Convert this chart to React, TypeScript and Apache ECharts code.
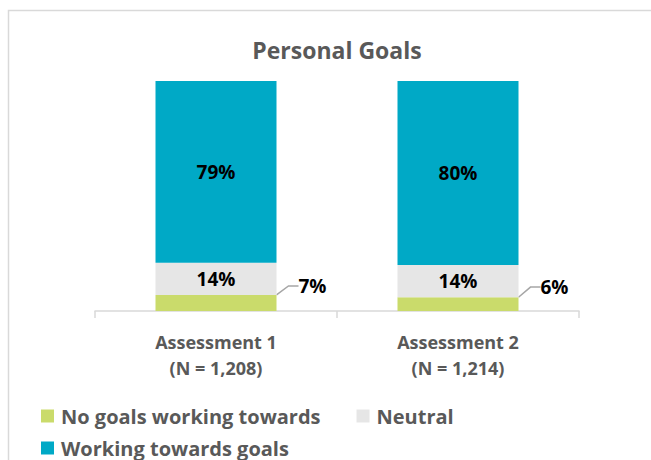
import React, { useEffect, useRef } from "react";
import * as echarts from "echarts";

const categories = ["Assessment 1\n(N = 1,208)", "Assessment 2\n(N = 1,214)"];
const noGoals = [7, 6];
const neutral = [14, 14];
const working = [79, 80];
const seriesNames = ["No goals working towards", "Neutral", "Working towards goals"];
const colors = ["#CADB6B", "#E6E6E6", "#00A9C6"];

const FONT = "Open Sans";

export default function App() {
  const ref = useRef<HTMLDivElement>(null);
  useEffect(() => {
    if (!ref.current) return;
    const chart = echarts.init(ref.current, undefined, { renderer: "svg" });
    const valueLabel = {
      show: true,
      position: "inside",
      formatter: "{c}%",
      color: "#000000",
      fontFamily: FONT,
      fontWeight: "bold",
      fontSize: 19,
    };
    const legendText = { fontFamily: FONT, fontWeight: "bold", fontSize: 20, color: "#595959", lineHeight: 20, padding: [0, 0, 0, 2] };
    chart.setOption({
      animation: false,
      backgroundColor: "#ffffff",
      title: {
        text: "Personal Goals",
        left: 332,
        textAlign: "center",
        top: 33,
        textStyle: { fontFamily: FONT, fontWeight: "bold", fontSize: 23, color: "#595959" },
      },
      graphic: [
        {
          type: "rect",
          shape: { x: 8.5, y: 10.5, width: 700, height: 500 },
          style: { fill: "none", stroke: "#D9D9D9", lineWidth: 1.5 },
          silent: true,
        },
      ],
      legend: [
        {
          data: [seriesNames[0], seriesNames[1]],
          left: 41,
          top: 406,
          padding: 0,
          itemWidth: 13,
          itemHeight: 13,
          itemGap: 36,
          icon: "rect",
          textStyle: legendText,
        },
        {
          data: [seriesNames[2]],
          left: 41,
          top: 438,
          padding: 0,
          itemWidth: 13,
          itemHeight: 13,
          icon: "rect",
          textStyle: legendText,
        },
      ],
      grid: { left: 95, right: 72, top: 81, height: 230 },
      xAxis: {
        type: "category",
        data: categories,
        axisLine: { lineStyle: { color: "#D9D9D9", width: 1.5 } },
        axisTick: { show: true, length: 7, lineStyle: { color: "#D9D9D9", width: 1.5 } },
        axisLabel: {
          margin: 18,
          fontFamily: FONT,
          fontWeight: "bold",
          fontSize: 18,
          lineHeight: 26,
          color: "#595959",
        },
      },
      yAxis: { type: "value", min: 0, max: 100, show: false },
      series: [
        {
          name: seriesNames[0],
          type: "bar",
          stack: "a",
          barWidth: "50%",
          data: noGoals,
          itemStyle: { color: colors[0] },
          label: { ...valueLabel, position: "right" },
          labelLayout: (params: any) => ({
            x: params.rect.x + params.rect.width + 22,
            y: params.rect.y + params.rect.height / 2 - 17,
            align: "left",
            verticalAlign: "middle",
          }),
          labelLine: { show: true, length2: 10, lineStyle: { color: "#A6A6A6", width: 1.5 } },
        },
        {
          name: seriesNames[1],
          type: "bar",
          stack: "a",
          data: neutral,
          itemStyle: { color: colors[1] },
          label: valueLabel,
        },
        {
          name: seriesNames[2],
          type: "bar",
          stack: "a",
          data: working,
          itemStyle: { color: colors[2] },
          label: valueLabel,
        },
      ],
    });
    return () => chart.dispose();
  }, []);
  return <div ref={ref} style={{ position: "absolute", left: 0, top: 0, width: 651, height: 460 }} />;
}
